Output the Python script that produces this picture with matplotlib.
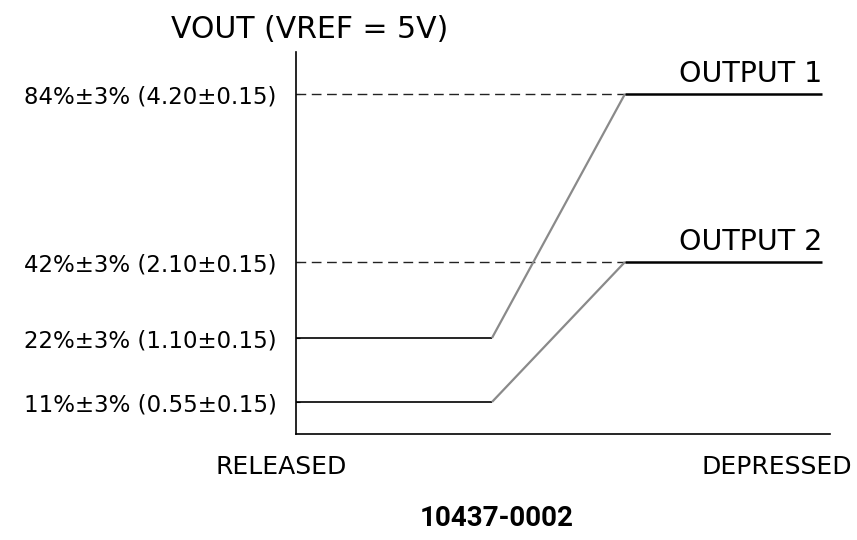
import numpy as np
import matplotlib
matplotlib.use("Agg")
import matplotlib.pyplot as plt

# output levels in volts (VREF = 5V)
levels_v = [0.55, 1.10, 2.10, 4.20]
level_labels = ["11%±3% (0.55±0.15)", "22%±3% (1.10±0.15)",
                "42%±3% (2.10±0.15)", "84%±3% (4.20±0.15)"]

# travel fraction: released (0) -> depressed (1)
travel = [0.0, 0.367, 0.616, 0.985]
output1 = [1.10, 1.10, 4.20, 4.20]
output2 = [0.55, 0.55, 2.10, 2.10]

# schematic (non-linear) vertical spacing of the drawing
scale_v = [0.0, 0.55, 1.10, 2.10, 4.20, 5.0]
scale_pos = [0.0, 32.0, 96.0, 172.0, 340.0, 382.0]


def fwd(v):
    return np.interp(v, scale_v, scale_pos)


def inv(p):
    return np.interp(p, scale_pos, scale_v)


plt.rcParams['font.family'] = ['DejaVu Sans']

fig = plt.figure(figsize=(8.57, 5.4), dpi=100)
ax = fig.add_axes([296 / 857, 1 - 434 / 540, (830 - 296) / 857, (434 - 52) / 540])
ax.set_yscale('function', functions=(fwd, inv))
ax.set_xlim(0, 1)
ax.set_ylim(0, 5.0)

for y, x_end in [(4.20, travel[2]), (2.10, travel[2])]:
    ax.plot([0, x_end], [y, y], color='#222222', lw=1.0, ls=(0, (7, 4)))

for ys in (output1, output2):
    ax.plot(travel[:2], ys[:2], color='black', lw=1.2, solid_capstyle='butt')
    ax.plot(travel[1:3], ys[1:3], color='#8a8a8a', lw=1.6, solid_capstyle='butt')
    ax.plot(travel[2:], ys[2:], color='black', lw=1.8, solid_capstyle='butt')

ax.spines['top'].set_visible(False)
ax.spines['right'].set_visible(False)
ax.spines['left'].set_linewidth(1.2)
ax.spines['bottom'].set_linewidth(1.2)
ax.set_xticks([])
ax.set_yticks(levels_v)
ax.set_yticklabels(level_labels, fontsize=16.5)
ax.tick_params(axis='y', direction='in', length=3, pad=14)

for ys, name in [(output1, "OUTPUT 1"), (output2, "OUTPUT 2")]:
    ax.annotate(name, (travel[-1], ys[-1]), xytext=(0, 4), textcoords='offset points',
                ha='right', va='bottom', fontsize=20.5)

fig.text(310 / 857, 1 - 30 / 540, "VOUT (VREF = 5V)", ha='center', va='center', fontsize=21.5)
fig.text(281 / 857, 1 - 467 / 540, "RELEASED", ha='center', va='center', fontsize=18)
fig.text(852 / 857, 1 - 467 / 540, "DEPRESSED", ha='right', va='center', fontsize=18)
fig.text(497 / 857, 1 - 518 / 540, "10437-0002", ha='center', va='center',
         fontsize=20, fontweight='bold', family='Roboto')

fig.savefig("out.png", dpi=100, facecolor='white')
